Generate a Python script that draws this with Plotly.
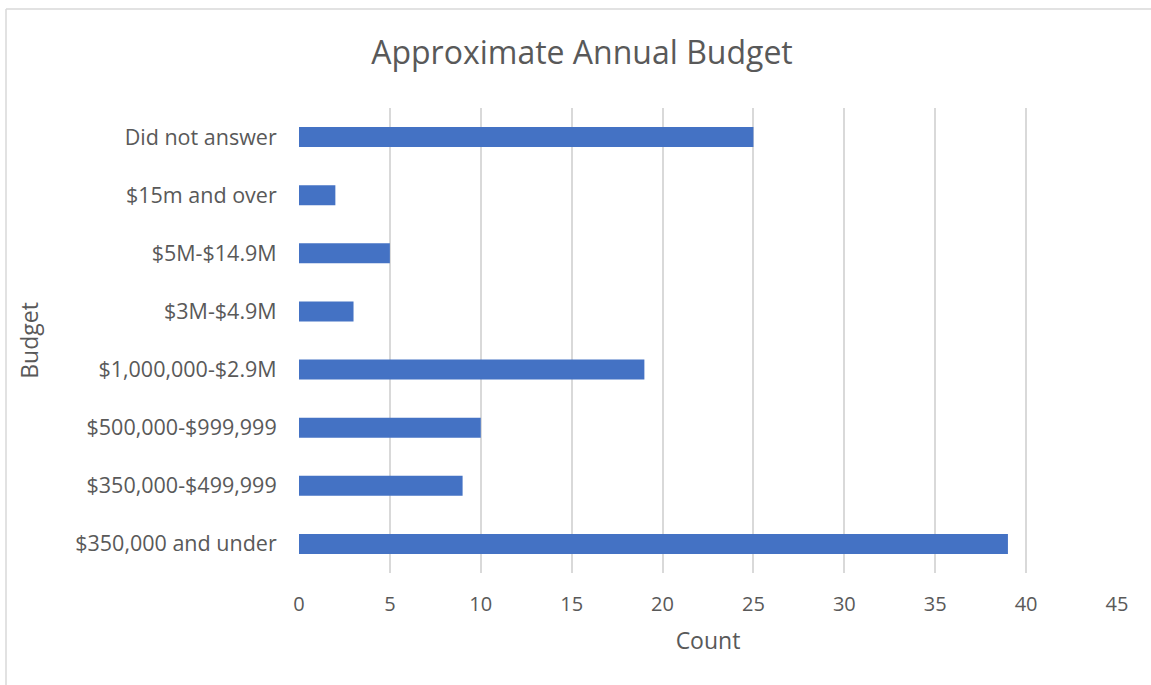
import plotly.graph_objects as go

categories = ["$350,000 and under", "$350,000-$499,999", "$500,000-$999,999",
              "$1,000,000-$2.9M", "$3M-$4.9M", "$5M-$14.9M", "$15m and over",
              "Did not answer"]
counts = [39, 9, 10, 19, 3, 5, 2, 25]
x_ticks = [0, 5, 10, 15, 20, 25, 30, 35, 40, 45]

W, H = 1151, 685
L, R, T, B = 299, 34, 108, 112
pw = W - L - R
ph = H - T - B

fig = go.Figure(go.Bar(
    x=counts, y=categories, orientation="h",
    marker=dict(color="#4472C4", line=dict(width=0)),
))

font = "Open Sans, Noto Sans, sans-serif"
fig.update_layout(
    width=W, height=H,
    margin=dict(l=L, r=R, t=T, b=B, pad=0),
    paper_bgcolor="white", plot_bgcolor="white",
    bargap=0.656,
    showlegend=False,
    font=dict(family=font, color="#595959", size=20),
    title=dict(text="Approximate Annual Budget", x=(582 - L) / pw, xref="paper",
               xanchor="center", y=1 - 53 / H, yanchor="middle",
               font=dict(size=32, color="#595959", family=font)),
    xaxis=dict(range=[0, 45], tickvals=x_ticks, showgrid=True,
               gridcolor="#d9d9d9", gridwidth=1.5, zeroline=False,
               showline=False, ticks="outside", ticklen=13,
               tickcolor="rgba(0,0,0,0)", tickfont=dict(size=20),
               title=dict(text="Count", font=dict(size=23), standoff=16)),
    yaxis=dict(categoryorder="array", categoryarray=categories,
               showgrid=False, zeroline=False, showline=False, ticks="outside",
               ticklen=17, tickcolor="rgba(0,0,0,0)", tickfont=dict(size=21.5),
               title=dict(text="Budget", font=dict(size=23), standoff=30)),
)

# chart border (top and left visible)
fig.add_shape(type="line", xref="paper", yref="paper",
              x0=(6 - L) / pw, x1=(W + 5 - L) / pw,
              y0=1 + (T - 9) / ph, y1=1 + (T - 9) / ph,
              line=dict(color="#d9d9d9", width=1.5))
fig.add_shape(type="line", xref="paper", yref="paper",
              x0=(6 - L) / pw, x1=(6 - L) / pw,
              y0=1 + (T - 9) / ph, y1=-(B + 5) / ph,
              line=dict(color="#d9d9d9", width=1.5))

fig.write_html("out.html")
